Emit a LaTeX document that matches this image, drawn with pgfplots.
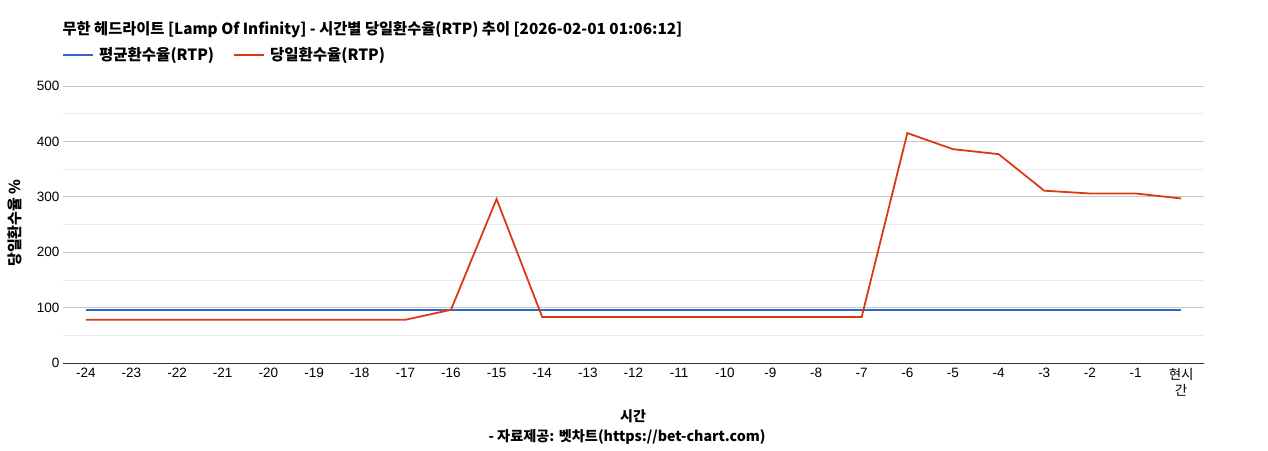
\documentclass[border=0pt]{standalone}
\usepackage{fontspec}
\setmainfont{Liberation Sans}
\newfontfamily\kr{Noto Sans CJK KR}
\usepackage{pgfplots}
\pgfplotsset{compat=1.18}

\definecolor{avgblue}{HTML}{3366CC}
\definecolor{dayred}{HTML}{DC3912}

\begin{document}
\begin{tikzpicture}
\path[use as bounding box] (0pt,0pt) rectangle (1268pt,450pt);
\begin{axis}[
    at={(63pt,87pt)}, anchor=south west,
    scale only axis, width=1141pt, height=277pt,
    xmin=-0.5, xmax=24.5, ymin=0, ymax=500,
    xtick={0,...,24},
    xticklabels={-24,-23,-22,-21,-20,-19,-18,-17,-16,-15,-14,-13,-12,-11,-10,-9,-8,-7,-6,-5,-4,-3,-2,-1,{{\kr 현시}\\{\kr 간}}},
    xticklabel style={align=center, font=\fontsize{13.5}{16}\selectfont, anchor=north, yshift=-2pt},
    ytick={0,100,...,500},
    minor ytick={50,150,...,450},
    yticklabel style={font=\fontsize{13.5}{13.5}\selectfont},
    /pgf/number format/assume math mode=true,
    ymajorgrids, yminorgrids,
    major grid style={color=black!22, line width=0.8pt},
    minor grid style={color=black!8, line width=0.8pt},
    axis x line*=bottom, axis y line*=left,
    y axis line style={draw=none},
    x axis line style={draw=black!80, line width=0.8pt, -},
    major tick length=0pt, minor tick length=0pt,
    legend columns=-1,
    legend style={at={(axis description cs:0,1.112)}, anchor=west, draw=none,
        fill=none, font=\kr\bfseries\fontsize{15.5}{15.5}\selectfont, xshift=-4pt,
        nodes={inner sep=1pt},
        /tikz/every odd column/.append style={column sep=4pt},
        /tikz/every even column/.append style={column sep=18pt}},
    legend image code/.code={\draw[#1, line width=2pt] (0pt,0pt) -- (30pt,0pt);},
]
\addplot[avgblue, line width=2.2pt] coordinates {
(0,96) (1,96) (2,96) (3,96) (4,96) (5,96) (6,96) (7,96) (8,96) (9,96)
(10,96) (11,96) (12,96) (13,96) (14,96) (15,96) (16,96) (17,96) (18,96)
(19,96) (20,96) (21,96) (22,96) (23,96) (24,96)};
\addplot[dayred, line width=1.8pt] coordinates {
(0,78) (1,78) (2,78) (3,78) (4,78) (5,78) (6,78) (7,78) (8,96) (9,296)
(10,83) (11,83) (12,83) (13,83) (14,83) (15,83) (16,83) (17,83) (18,415)
(19,386) (20,377) (21,311) (22,306) (23,306) (24,297)};
\legend{평균환수율(RTP), 당일환수율(RTP)}
\end{axis}
\node[anchor=west, font=\kr\bfseries\fontsize{15.3}{15.3}\selectfont] at (59pt,420pt)
  {무한 헤드라이트 [Lamp Of Infinity] - 시간별 당일환수율(RTP) 추이 [2026-02-01 01:06:12]};
\node[rotate=90, font=\kr\bfseries\fontsize{15}{15}\selectfont] at (15pt,227pt) {당일환수율 \%};
\node[font=\kr\bfseries\fontsize{14}{14}\selectfont] at (633pt,34pt) {시간};
\node[font=\kr\bfseries\fontsize{14.2}{14.2}\selectfont] at (627pt,13pt) {- 자료제공: 벳차트(https://bet-chart.com)};
\end{tikzpicture}
\end{document}
